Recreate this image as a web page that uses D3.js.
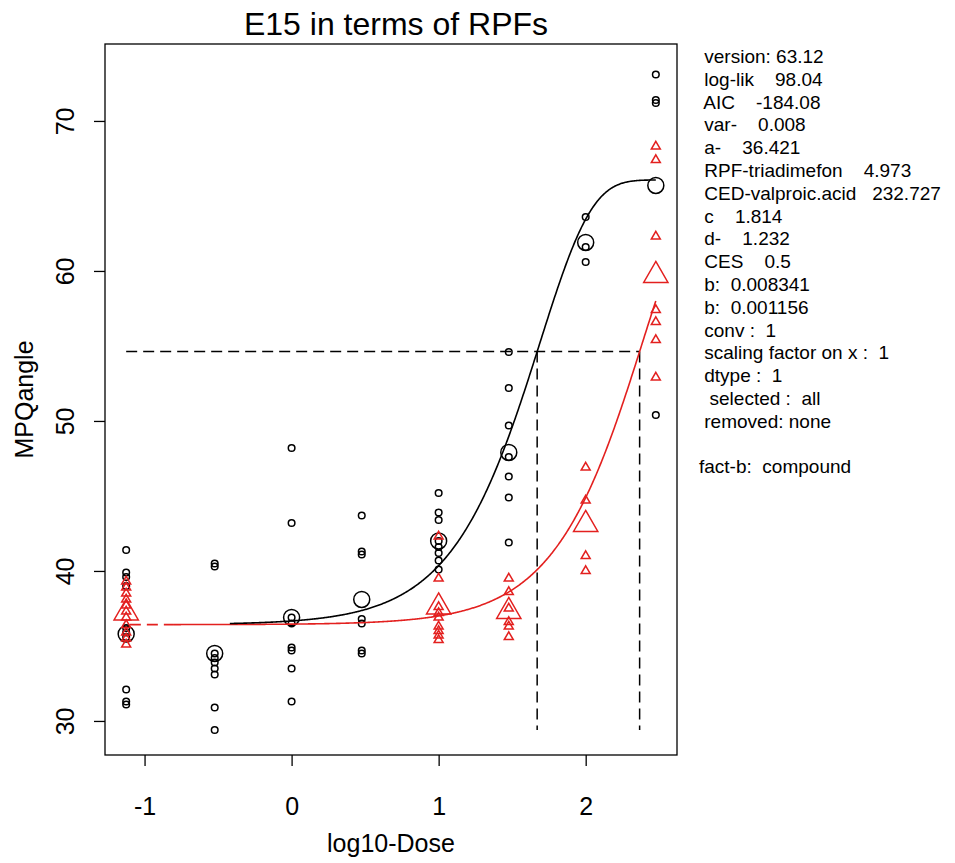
<!DOCTYPE html>
<html><head><meta charset="utf-8">
<script src="https://cdn.jsdelivr.net/npm/d3@7/dist/d3.min.js"></script>
<style>
body{margin:0;background:#fff}
svg text{font-family:"Liberation Sans",Arial,sans-serif;fill:#000}
</style>
</head><body>
<svg id="chart" width="955" height="863"></svg>
<script>
// ---------------- data ----------------
const title = "E15 in terms of RPFs";
const xLabel = "log10-Dose";
const yLabel = "MPQangle";
const xTickValues = [-1, 0, 1, 2];
const yTickValues = [30, 40, 50, 60, 70];

// log10 dose positions of the dose groups (first group = controls)
const triadimefonLogDose = [-1.125, -0.523, 0, 0.477, 1, 1.477, 2, 2.477];
const triadimefonValues = [
  [41.4, 39.9, 39.6, 39.0, 36.2, 35.9, 35.6, 32.1, 31.3, 31.1],
  [40.5, 40.3, 34.5, 34.2, 33.9, 33.5, 33.1, 30.9, 29.4],
  [48.2, 43.2, 36.9, 36.5, 34.9, 34.7, 33.5, 31.3],
  [43.7, 41.3, 41.1, 36.8, 36.5, 34.7, 34.5],
  [45.2, 43.9, 43.4, 42.0, 41.6, 41.2, 40.7, 40.1],
  [54.6, 52.2, 49.7, 47.6, 46.3, 44.9, 41.9],
  [63.6, 61.6, 60.6],
  [73.1, 71.4, 71.2, 50.4]
];
const triadimefonMeans = [35.8, 34.5, 36.9, 38.1, 42.0, 47.9, 61.9, 65.7];

const valproicLogDose = [-1.125, 1, 1.477, 2, 2.477];
const valproicValues = [
  [39.3, 38.9, 38.5, 38.1, 37.7, 37.3, 36.9, 36.4, 35.9, 35.5, 35.1],
  [42.3, 39.5, 37.6, 37.2, 36.9, 36.3, 36.0, 35.7, 35.4],
  [39.5, 38.6, 37.5, 36.6, 36.3, 35.6],
  [46.9, 44.7, 41.0, 40.0],
  [68.3, 67.4, 62.3, 57.4, 56.6, 55.4, 52.9]
];
const valproicMeans = [37.2, 37.6, 37.3, 43.1, 59.7];

// fitted model parameters (shown in the legend text)
const paramA = 36.421, paramC = 1.814, paramD = 1.232, CES = 0.5;
const paramB = {triadimefon: 0.008341, valproic: 0.001156};
const cedLog = {triadimefon: 1.670, valproic: Math.log10(232.727)};
const curveRange = {triadimefon: [-0.42, 2.477], valproicDashed: [-1.10, -0.80], valproic: [-0.80, 2.477]};
const refLineStart = -1.125, refLineBottom = 29.4;

const infoLines = [
  " version: 63.12",
  " log-lik    98.04",
  " AIC    -184.08",
  " var-    0.008",
  " a-    36.421",
  " RPF-triadimefon    4.973",
  " CED-valproic.acid   232.727",
  " c    1.814",
  " d-    1.232",
  " CES    0.5",
  " b:  0.008341",
  " b:  0.001156",
  " conv :  1",
  " scaling factor on x :  1",
  " dtype :  1",
  "  selected :  all",
  " removed: none",
  "",
  "fact-b:  compound"
];

// ---------------- drawing ----------------
const RED = "#e3201f";
const svg = d3.select("#chart");
const box = {left: 105, right: 677, top: 44, bottom: 755};
const x = d3.scaleLinear().domain([-1.269, 2.621]).range([box.left, box.right]);
const y = d3.scaleLinear().domain([27.73, 75.13]).range([box.bottom, box.top]);

const model = (ld, b) => paramA * (paramC - (paramC - 1) * Math.exp(-b * Math.pow(Math.pow(10, ld), paramD)));
const line = d3.line().x(d => x(d[0])).y(d => y(d[1]));
function curve(range, b) {
  const pts = d3.range(range[0], range[1], 0.005).map(ld => [ld, model(ld, b)]);
  pts.push([range[1], model(range[1], b)]);
  return pts;
}

// axes
const xAxis = d3.axisBottom(x).tickValues(xTickValues).tickSize(11).tickFormat(d => String(d));
const gx = svg.append("g").attr("transform", `translate(0,${box.bottom})`).call(xAxis);
gx.select(".domain").remove();
gx.selectAll(".tick line").attr("stroke", "#000").attr("stroke-width", 1.3);
gx.selectAll(".tick text").attr("y", 60).attr("dy", null).style("font-size", "25px");

const yAxis = d3.axisLeft(y).tickValues(yTickValues).tickSize(11).tickFormat(d => String(d));
const gy = svg.append("g").attr("transform", `translate(${box.left},0)`).call(yAxis);
gy.select(".domain").remove();
gy.selectAll(".tick line").attr("stroke", "#000").attr("stroke-width", 1.3);
gy.selectAll(".tick text").attr("x", null).attr("dy", null)
  .attr("text-anchor", "middle").attr("transform", "translate(-31,0) rotate(-90)")
  .style("font-size", "25px");

svg.append("rect").attr("x", box.left).attr("y", box.top)
  .attr("width", box.right - box.left).attr("height", box.bottom - box.top)
  .attr("fill", "none").attr("stroke", "#000").attr("stroke-width", 1.3);

// titles
svg.append("text").attr("x", (box.left + box.right) / 2 + 5).attr("y", 35)
  .attr("text-anchor", "middle").style("font-size", "32px").text(title);
svg.append("text").attr("x", (box.left + box.right) / 2).attr("y", 852)
  .attr("text-anchor", "middle").style("font-size", "25px").text(xLabel);
svg.append("text").attr("transform", `translate(33,${(box.top + box.bottom) / 2}) rotate(-90)`)
  .attr("text-anchor", "middle").style("font-size", "25px").text(yLabel);

// reference lines (CES level and CEDs)
const cesLevel = paramA * (1 + CES);
const dash = "11,6";
svg.append("line").attr("x1", x(refLineStart)).attr("x2", x(cedLog.valproic))
  .attr("y1", y(cesLevel)).attr("y2", y(cesLevel))
  .attr("stroke", "#000").attr("stroke-width", 1.5).attr("stroke-dasharray", dash);
[cedLog.triadimefon, cedLog.valproic].forEach(c => {
  svg.append("line").attr("x1", x(c)).attr("x2", x(c))
    .attr("y1", y(cesLevel)).attr("y2", y(refLineBottom))
    .attr("stroke", "#000").attr("stroke-width", 1.5).attr("stroke-dasharray", dash);
});

// observations - triadimefon (black circles)
const gPts = svg.append("g");
triadimefonValues.forEach((vals, i) => {
  vals.forEach(v => {
    gPts.append("circle").attr("cx", x(triadimefonLogDose[i])).attr("cy", y(v)).attr("r", 3.3)
      .attr("fill", "none").attr("stroke", "#000").attr("stroke-width", 1.5);
  });
});
triadimefonMeans.forEach((v, i) => {
  gPts.append("circle").attr("cx", x(triadimefonLogDose[i])).attr("cy", y(v)).attr("r", 8)
    .attr("fill", "none").attr("stroke", "#000").attr("stroke-width", 1.5);
});

// triangles
const tri = (r) => {
  const xc = r * Math.sqrt(3) / 2, yc = r / 2;
  return `M0,${-r}L${xc},${yc}L${-xc},${yc}Z`;
};
valproicValues.forEach((vals, i) => {
  vals.forEach(v => {
    gPts.append("path").attr("d", tri(5.2))
      .attr("transform", `translate(${x(valproicLogDose[i])},${y(v)})`)
      .attr("fill", "none").attr("stroke", RED).attr("stroke-width", 1.5);
  });
});
valproicMeans.forEach((v, i) => {
  gPts.append("path").attr("d", tri(14))
    .attr("transform", `translate(${x(valproicLogDose[i])},${y(v)})`)
    .attr("fill", "none").attr("stroke", RED).attr("stroke-width", 1.5);
});

// fitted curves
svg.append("path").attr("d", line(curve(curveRange.valproicDashed, paramB.valproic)))
  .attr("fill", "none").attr("stroke", RED).attr("stroke-width", 1.6).attr("stroke-dasharray", dash);
svg.append("path").attr("d", line(curve(curveRange.valproic, paramB.valproic)))
  .attr("fill", "none").attr("stroke", RED).attr("stroke-width", 1.6);
svg.append("path").attr("d", line(curve(curveRange.triadimefon, paramB.triadimefon)))
  .attr("fill", "none").attr("stroke", "#000").attr("stroke-width", 1.6);

// info text
const info = svg.append("g");
infoLines.forEach((t, i) => {
  info.append("text").attr("x", 699).attr("y", 63 + i * 22.8)
    .attr("xml:space", "preserve").style("white-space", "pre")
    .style("font-size", "19px").text(t);
});
</script>
</body></html>
